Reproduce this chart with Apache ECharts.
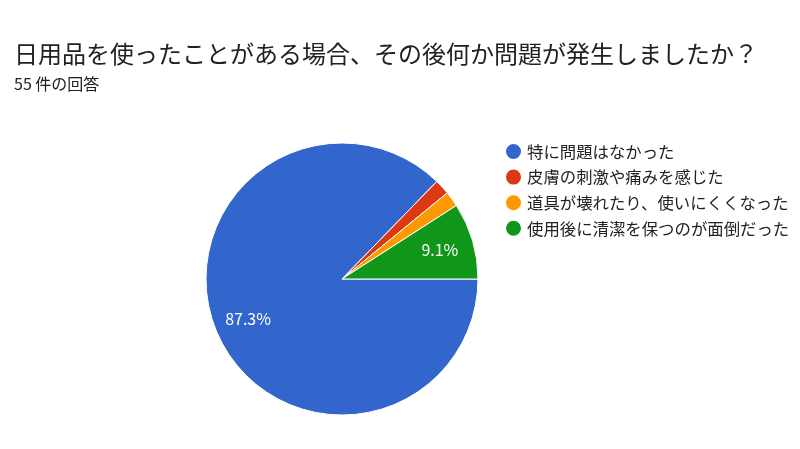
<!DOCTYPE html>
<html>
<head>
<meta charset="utf-8">
<script src="https://cdn.jsdelivr.net/npm/echarts@6/dist/echarts.min.js"></script>
<style>
  html, body { margin: 0; padding: 0; background: #fff; }
  #chart { width: 800px; height: 449px; }
</style>
</head>
<body>
<div id="chart"></div>
<script>
// 回答データ (55 件)
const titleText = '日用品を使ったことがある場合、その後何か問題が発生しましたか？';
const subText = '55 件の回答';
const answers = ['特に問題はなかった', '皮膚の刺激や痛みを感じた', '道具が壊れたり、使いにくくなった', '使用後に清潔を保つのが面倒だった'];
const counts = [48, 1, 1, 5];
const colors = ['#3366cc', '#dc3912', '#ff9900', '#109618'];

const font = '"Noto Sans CJK JP", "Noto Sans", sans-serif';
const pieData = answers.map((name, i) => ({ name: name, value: counts[i] }));

const chart = echarts.init(document.getElementById('chart'));
chart.setOption({
    animation: false,
    color: colors,
    title: {
        text: titleText,
        subtext: subText,
        left: 9,
        top: 37,
        itemGap: 10,
        textStyle: { fontFamily: font, fontSize: 24, fontWeight: 'normal', color: '#202124' },
        subtextStyle: { fontFamily: font, fontSize: 16, color: '#202124' }
    },
    legend: {
        orient: 'vertical',
        left: 499,
        top: 137,
        itemWidth: 17,
        itemHeight: 17,
        itemGap: 6.6,
        icon: 'circle',
        textStyle: { fontFamily: font, fontSize: 16.4, color: '#222' }
    },
    series: [
        {
            type: 'pie',
            center: [342, 279],
            radius: [0, 136],
            startAngle: 0,
            clockwise: true,
            label: { show: false },
            labelLine: { show: false },
            itemStyle: { borderColor: '#fff', borderWidth: 1 },
            data: pieData
        },
        {
            // ラベル用（透明・外側寄りに配置）
            type: 'pie',
            center: [342, 279],
            radius: [0, 198],
            startAngle: 0,
            clockwise: true,
            silent: true,
            percentPrecision: 1,
            legendHoverLink: false,
            itemStyle: { color: 'transparent' },
            labelLine: { show: false },
            label: {
                show: true,
                position: 'inside',
                fontFamily: font,
                fontSize: 16,
                color: '#fff',
                formatter: p => (p.percent > 5 ? p.percent.toFixed(1) + '%' : '')
            },
            data: pieData
        }
    ]
});
</script>
</body>
</html>
